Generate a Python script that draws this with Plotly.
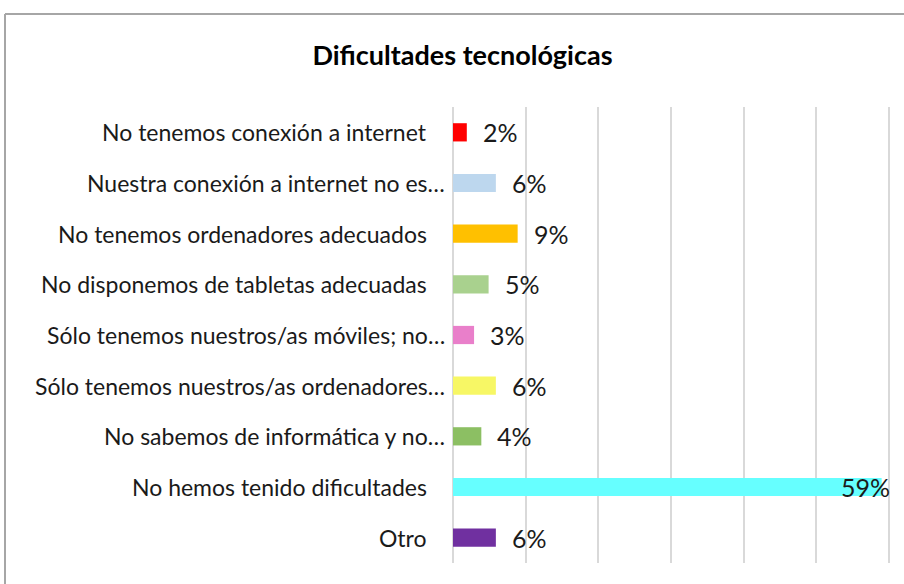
import plotly.graph_objects as go

categories = [
    "No tenemos conexión a internet",
    "Nuestra conexión a internet no es…",
    "No tenemos ordenadores adecuados",
    "No disponemos de tabletas adecuadas",
    "Sólo tenemos nuestros/as móviles; no…",
    "Sólo tenemos nuestros/as ordenadores…",
    "No sabemos de informática y no…",
    "No hemos tenido dificultades",
    "Otro",
]
values = [1.9, 5.9, 8.9, 4.9, 2.9, 5.9, 3.9, 59.0, 5.9]
colors = ["#FF0000", "#BDD7EE", "#FFC000", "#A9D18E", "#E97FCA",
          "#F7F765", "#8CBF63", "#66FFFF", "#7030A0"]
x_ticks = [0, 10, 20, 30, 40, 50, 60]

FONT = "Lato, 'Open Sans', sans-serif"

fig = go.Figure(go.Bar(
    x=values, y=categories, orientation="h",
    marker=dict(color=colors, line=dict(width=0)),
    hoverinfo="skip",
))

annotations = []
for c, v in zip(categories, values):
    # category labels
    annotations.append(dict(
        x=0, y=c, xref="x", yref="y", text=c, showarrow=False,
        xanchor="right", xshift=(-6 if c.endswith("…") else -24),
        font=dict(family=FONT, size=23, color="#1a1a1a"),
    ))
    # data labels
    if v > 50:
        annotations.append(dict(
            x=x_ticks[-1], y=c, xref="x", yref="y", text=f"{v:.0f}%",
            showarrow=False, xanchor="right", xshift=3,
            font=dict(family=FONT, size=25, color="#1a1a1a"),
        ))
    else:
        annotations.append(dict(
            x=v, y=c, xref="x", yref="y", text=f"{v:.0f}%",
            showarrow=False, xanchor="left", xshift=14,
            font=dict(family=FONT, size=25, color="#1a1a1a"),
        ))

L, R, T, B = 453, 14, 107, 21
W, H = 904, 584
pw = W - L - R
ph = H - T - B

def px_x(p):
    return (p - L) / pw

def px_y(p):
    return (H - B - p) / ph

shapes = [
    dict(type="line", xref="paper", yref="paper",
         x0=px_x(5), x1=px_x(904), y0=px_y(14), y1=px_y(14),
         line=dict(color="#A6A6A6", width=2)),
    dict(type="line", xref="paper", yref="paper",
         x0=px_x(5), x1=px_x(5), y0=px_y(14), y1=px_y(590),
         line=dict(color="#A6A6A6", width=2)),
]

fig.update_layout(
    width=W, height=H,
    margin=dict(l=L, r=R, t=T, b=B),
    paper_bgcolor="white", plot_bgcolor="white",
    showlegend=False,
    bargap=0.64,
    title=dict(text="<b>Dificultades tecnológicas</b>", x=462.5 / W, xref="container",
               xanchor="center", y=1 - 56 / H, yref="container", yanchor="middle",
               font=dict(family=FONT, size=27, color="#000000")),
    xaxis=dict(range=[0, 60.15], tickvals=x_ticks, showticklabels=False,
               showgrid=True, gridcolor="#D9D9D9", gridwidth=2,
               zeroline=True, zerolinecolor="#D9D9D9", zerolinewidth=2,
               showline=False, fixedrange=True),
    yaxis=dict(autorange="reversed", showticklabels=False, showgrid=False,
               zeroline=False, showline=False, fixedrange=True),
    annotations=annotations,
    shapes=shapes,
)

fig.write_html("out.html", config={"displayModeBar": False},
               post_script="document.body.style.margin='0';document.body.style.overflow='hidden';")
